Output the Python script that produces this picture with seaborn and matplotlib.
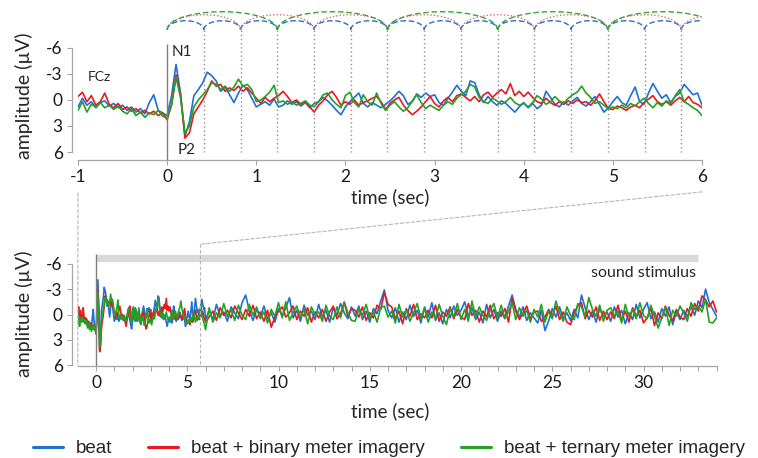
import numpy as np
import pandas as pd
import matplotlib.pyplot as plt
from matplotlib.patches import ConnectionPatch
import seaborn as sns

# sampling grid (s): zoomed window -1..6 s, then the rest of the trial
t_zoom = np.round(np.arange(-1, 6.001, 0.05), 2)
t_rest = np.round(np.arange(6.2, 34.001, 0.2), 1)

# FCz amplitude (uV), -1..6 s
beat_zoom = [0.8, -0.2, 0.6, 0.2, 0.9, 0.3, 0.1, 0.7, 0.4, 0.9, 0.6, 1.2, 0.8, 1.4, 1.0, 1.6, 0.3, -0.6, 1.2, 1.5,
             1.8, -0.5, -4.1, -0.8, 4.2, 2.5, -0.5, -1.2, -2.0, -3.2, -2.8, -2.2, -1.0, -1.5, -0.6, 0.3, -0.8, -1.7, -1.2, -0.2,
             0.8, 0.5, 0.2, 0.6, -0.1, 0.8, 0.6, 0.1, 0.5, 0.2, 0.7, 0.3, 0.9, 0.4, 0.2, -0.3, 0.1, 0.6, 1.2, 1.7,
             0.8, 0.2, -0.3, -0.8, 0.4, 0.8, 0.3, 0.6, 0.9, 0.5, 0.1, -0.4, -1.0, -0.5, 0.5, 0.2, -0.7, -0.3, -0.8, -0.4,
             -0.6, 0.3, 0.6, -0.2, -0.9, -1.7, -1.0, -0.5, -2.2, -2.0, -0.6, 0.3, -0.4, 0.2, 0.6, 0.1, 0.4, 0.9, 1.4, 0.8,
             0.3, 0.9, 0.4, 1.0, 0.6, -1.0, -0.3, 0.5, 0.8, 0.2, 0.6, 0.1, -0.3, 0.4, 0.7, 0.2, -0.4, 0.5, 1.4, 0.9,
             0.2, -0.4, 0.3, 0.6, -0.5, -1.5, 0.2, 0.5, -0.8, -1.9, -1.0, -0.2, -0.6, 0.3, -0.4, -0.8, -1.8, -1.2, -0.6, -0.8,
             0.6]
binary_zoom = [-0.4, -0.9, 0.2, -0.5, 0.6, 0.2, -0.8, 0.5, 0.9, 0.4, 1.1, 0.8, 1.3, 1.0, 1.5, 1.2, 1.6, 1.3, 1.8, 1.5,
               2.3, 0.5, -2.9, -0.6, 4.4, 3.8, 1.6, 0.8, 0.0, -1.0, -2.2, -1.6, -1.8, -1.0, -1.4, -1.1, -1.6, -1.0, -1.4, -0.8,
               -0.2, 0.4, -0.3, 0.2, -0.2, -0.5, -1.0, -0.4, 0.3, 0.0, 0.5, 0.2, 0.8, 1.4, 0.6, 0.1, -0.6, -1.0, -0.3, 0.6,
               0.2, 0.5, 0.0, 0.6, 0.3, 0.1, -0.2, -0.4, 0.2, 1.1, 0.4, 0.0, -0.3, 0.6, 1.2, 1.7, 1.3, 0.8, 0.2, -0.4,
               0.4, 0.8, 0.1, -0.3, 0.2, -0.5, -0.7, -0.3, 0.1, -0.4, 0.2, -0.6, -0.9, -0.3, -0.8, -1.2, -0.7, -1.9, -0.5, -1.0,
               -0.4, -0.9, -0.3, 0.2, 0.4, -0.2, 0.3, 0.6, 0.2, 0.5, 0.1, 0.4, 0.0, 0.3, 0.2, 0.6, 0.1, -0.7, 0.2, 1.0,
               1.1, 0.7, 0.9, 1.2, 0.8, 0.6, 0.9, 0.3, -0.1, -0.5, 0.2, 0.5, 0.2, 0.6, 0.1, -0.3, 0.2, -0.4, 0.3, 0.5,
               0.9]
ternary_zoom = [1.2, 0.2, 1.4, 0.5, 0.8, 0.3, 0.9, 0.6, 1.1, 0.7, 1.3, 1.6, 1.0, 1.8, 1.4, 2.0, 1.5, 1.7, 1.2, 1.9,
                2.0, 0.6, -2.6, -0.3, 3.8, 3.0, 0.8, 0.0, -0.6, -1.2, -2.0, -1.8, -1.2, -1.6, -1.0, -1.5, -2.4, -1.6, -1.8, -1.2,
                0.2, 0.0, -0.4, -0.9, -1.7, 0.3, 0.1, 0.5, 0.2, 0.6, 0.4, 0.1, 0.6, 0.8, 0.2, -0.6, -0.8, 0.0, 0.5, 0.9,
                -0.5, -0.9, 0.3, 0.8, -0.6, 0.2, 0.6, -0.8, 0.4, 1.2, 0.6, 0.2, 0.8, 1.3, 0.9, 0.1, -0.6, 0.3, 1.0, 0.6,
                0.9, 1.2, 0.6, 0.2, 0.5, -0.2, -0.6, -1.0, -1.8, -1.5, -0.3, 0.2, 0.4, -0.2, 0.1, 0.5, 0.2, -0.3, 0.3, 0.6,
                0.4, 0.8, 0.3, -0.5, -0.1, 0.5, 0.2, -0.4, 0.1, 0.4, -0.2, -0.6, -0.9, -1.6, -0.8, -0.3, 0.4, 0.2, 0.6, 1.0,
                0.8, 1.0, 0.6, 0.9, 0.4, 0.7, 0.2, -0.2, 0.4, 0.9, 0.3, 0.7, 0.1, 0.4, -0.5, -1.2, 0.2, 0.5, 0.9, 1.2,
                1.8]

# FCz amplitude (uV), 6.2..34 s
beat_rest = [-0.5, 0.6, -1.2, 0.2, -0.3, 0.8, -0.9, -0.2, 0.5, -1.4,
             -2.3, -0.4, 0.7, -0.6, 0.3, -1.0, 0.5, -0.2, 0.9, -0.7,
             0.2, -0.8, -2.0, 0.4, -0.5, 0.8, -1.1, 0.1, -0.4, 0.6,
             -1.2, 0.3, -0.5, 0.9, -0.8, 0.1, -1.3, -0.2, 0.5, -0.9,
             0.2, -1.0, 0.6, -0.4, 0.9, -0.7, -0.1, -1.6, -2.9, -0.5,
             0.4, -0.8, 0.9, -0.3, 0.6, -1.1, 0.2, -0.5, 1.0, -0.9,
             0.3, -1.4, 0.7, -0.2, 1.1, -0.6, 0.4, -1.0, 0.1, -0.5,
             -1.5, 0.2, -0.8, 0.6, -0.3, 1.0, -1.2, 0.4, -0.6, 0.8,
             -0.4, 0.5, -1.0, -2.3, -0.6, 0.3, -0.9, 0.7, -0.2, 0.4,
             1.0, -0.5, 1.9, 0.8, -0.7, 0.3, -0.9, 0.5, -0.2, 0.7,
             -0.6, 0.4, -2.3, -0.8, 0.6, -0.4, 0.9, -0.7, 0.2, -0.3,
             0.8, -0.9, 0.3, -0.5, 1.1, -0.2, 0.6, -1.2, 0.4, -0.6,
             -1.4, 0.5, -0.3, 0.9, -0.7, 0.2, -0.9, 1.2, -0.4, 0.6,
             -0.5, 0.3, -1.0, 0.1, -1.6, -0.8, -3.0, -1.4, -0.6, 0.2]
binary_rest = [0.3, -0.4, 0.7, -0.8, 0.1, -0.5, 0.4, -1.0, -0.2, 0.6,
               -0.6, 0.2, -1.1, 0.5, -0.3, 0.8, -0.5, 1.5, 0.3, -0.4,
               -0.9, 0.3, -0.2, -1.0, 0.6, -0.4, 0.2, -0.8, 0.9, -0.3,
               0.4, -0.6, 0.8, -0.3, -1.0, 0.5, -0.1, -1.4, 0.2, -0.7,
               -0.5, 0.3, -0.9, 0.7, -0.2, 0.4, -1.1, -0.6, -2.6, -1.2,
               -0.9, 0.5, -0.4, 1.1, -0.7, 0.2, -1.2, 0.6, -0.1, 0.4,
               -0.5, 0.4, -1.1, 0.8, -0.3, 0.2, -0.9, 0.5, -0.6, 0.3,
               0.6, -1.3, 0.1, -0.5, 0.9, -0.4, 0.3, -1.1, 0.5, -0.2,
               0.2, -0.7, 0.9, -1.9, -0.4, 0.6, -0.2, -1.0, 0.5, -0.3,
               -0.4, 0.8, 0.3, -0.6, 0.2, -1.0, 0.6, -0.3, 0.9, 1.2,
               -0.2, -1.0, -1.4, 0.5, -0.5, 0.3, -0.9, 0.7, -0.4, 0.6,
               -0.3, 0.5, -1.1, 0.7, -0.4, 0.9, -0.8, 0.2, -0.5, 1.0,
               0.4, -0.8, 1.3, -0.2, 0.5, -1.0, 0.1, 0.7, -0.6, 0.3,
               0.6, -0.7, 0.2, -1.3, -0.4, -2.2, -1.7, -0.9, -1.6, -0.3]
ternary_rest = [-0.8, 0.9, -0.2, 0.4, -1.3, 0.2, -0.6, 0.7, -1.1, 0.1,
                0.6, -1.2, 0.1, -0.9, 0.5, -0.3, 1.0, -0.6, 0.2, -1.4,
                0.4, -1.5, 0.7, -0.2, -1.0, 0.3, -0.6, 1.1, -0.9, 0.0,
                -0.3, 0.8, -1.1, 0.2, 0.6, -0.9, 0.4, -1.5, -0.2, 0.7,
                0.8, -0.6, 0.1, -1.2, 0.5, -0.3, 0.9, -0.8, -1.0, 0.3,
                -0.4, 1.0, -1.2, 0.3, -0.6, 0.8, -0.2, -1.3, 0.5, -0.7,
                0.9, -0.3, 0.5, -1.2, 0.2, 1.2, -0.7, 0.3, -1.3, 0.6,
                -0.6, 0.8, -1.6, 0.3, -0.9, 0.1, 0.7, -0.5, -1.3, 0.4,
                -1.1, 0.4, -0.3, -1.4, 0.6, -0.8, 0.2, -0.5, 0.9, -0.6,
                0.3, -1.2, 0.9, -0.4, 0.5, -1.6, -0.2, 0.8, -0.9, 0.1,
                0.6, -1.3, -0.9, 0.3, -2.0, -0.6, 0.2, -1.1, 0.8, -0.5,
                -0.8, 0.2, -0.4, 1.0, -1.2, 0.3, -0.6, 0.5, -1.4, 0.1,
                0.5, -1.1, 0.2, 1.6, 0.4, -0.9, 1.3, -0.5, 0.2, -1.0,
                -0.2, 0.8, -1.4, -0.6, -1.0, -0.3, -1.8, 0.9, 1.0, 0.4]

conditions = ["beat", "beat + binary meter imagery", "beat + ternary meter imagery"]
colors = ["#1f6fd4", "#e8191e", "#25a025"]
beat_period = 0.412   # s
n_beats = 14
stim_end = 33         # s

sns.set_theme(style="ticks")
plt.rcParams["font.family"] = ["Lato", "DejaVu Sans"]
plt.rcParams["axes.unicode_minus"] = False
palette = dict(zip(conditions, colors))


def long_df(t, series):
    return pd.concat([pd.DataFrame({"time": t, "amp": s, "cond": c})
                      for c, s in zip(conditions, series)], ignore_index=True)


zoom_df = long_df(t_zoom, [beat_zoom, binary_zoom, ternary_zoom])
full_df = long_df(np.concatenate([t_zoom, t_rest]),
                  [beat_zoom + beat_rest, binary_zoom + binary_rest, ternary_zoom + ternary_rest])


def style(ax, xmax):
    for s in ["top", "right"]:
        ax.spines[s].set_visible(False)
    ax.spines["left"].set_position(("outward", 4.3))
    ax.spines["left"].set_bounds(-6, 6)
    ax.spines["bottom"].set_bounds(-1, xmax)
    for s in ["left", "bottom"]:
        ax.spines[s].set_color("#a6a6a6")
        ax.spines[s].set_linewidth(0.9)
    ax.set_yticks([-6, -3, 0, 3, 6])
    ax.tick_params(which="both", colors="#a6a6a6", labelcolor="#1a1a1a",
                   labelsize=12.5, length=3.6, width=0.8, pad=3)
    ax.set_ylabel("amplitude (µV)", fontsize=14)
    ax.set_xlabel("time (sec)", fontsize=13.5)


fig = plt.figure(figsize=(7.58, 4.58), dpi=100)
ax1 = fig.add_axes([0.1029, 0.6507, 0.8232, 0.3275])
ax2 = fig.add_axes([0.1026, 0.2015, 0.8427, 0.2526])

# top: zoomed 7 s
sns.lineplot(data=zoom_df, x="time", y="amp", hue="cond", palette=palette,
             estimator=None, sort=False, lw=1.2, legend=False, ax=ax1)
ax1.set_xlim(-1, 6)
ax1.set_ylim(6.92, -10.38)
style(ax1, 6)
ax1.set_xticks(range(-1, 7))
ax1.yaxis.set_label_coords(-0.072, 0.43)
ax1.xaxis.set_label_coords(0.5, -0.19)

beats = np.arange(n_beats + 1) * beat_period
ax1.vlines(0, -6.46, 6.92, color="#7f7f7f", lw=1)
ax1.vlines(beats[1:], -8.1, 6, color="#8c8c8c", lw=1, linestyles=(0, (1, 2)))

# meter arcs: beat, binary, ternary grouping
arc_specs = [(1, "#2f6cc8", (0, (4, 2)), 1.04),
             (2, "#e06a6a", (0, (1, 1.5)), 1.73),
             (3, "#36a636", (0, (4, 2)), 2.08)]
for span, col, ls, h in arc_specs:
    half = span * beat_period / 2
    for start in beats[::span]:
        tt = np.linspace(start, start + 2 * half, 80)
        yy = -8.1 - h * np.sqrt(np.clip(1 - ((tt - start - half) / half) ** 2, 0, None))
        ax1.plot(tt, yy, color=col, lw=1, ls=ls)

ax1.text(-0.89, -2.65, "FCz", fontsize=10, va="center", ha="left")
ax1.text(0.045, -5.5, "N1", fontsize=11, va="center", ha="left")
ax1.text(0.12, 5.8, "P2", fontsize=11, va="center", ha="left")

# bottom: whole trial
sns.lineplot(data=full_df, x="time", y="amp", hue="cond", palette=palette,
             estimator=None, sort=False, lw=1.2, legend=False, ax=ax2)
ax2.set_xlim(-1, 34)
ax2.set_ylim(6.05, -7.62)
style(ax2, 34)
ax2.set_xticks(range(0, 31, 5))
ax2.set_xticks(range(0, 35), minor=True)
ax2.yaxis.set_label_coords(-0.070, 0.447)
ax2.xaxis.set_label_coords(0.489, -0.32)

ax2.hlines(-6.67, 0, stim_end, color="#d9d9d9", lw=5.2)
ax2.vlines(0, -7.1, 6.05, color="#7f7f7f", lw=1)
ax2.text(stim_end - 0.15, -4.9, "sound stimulus", fontsize=11.5, ha="right", va="center")

# zoom guides between panels
guide = dict(color="#b5b5b5", lw=0.8, ls=(0, (3, 2)))
fig.add_artist(ConnectionPatch((-1, 10.7), (-1, 6.05), ax1.transData, ax2.transData, **guide))
fig.add_artist(ConnectionPatch((6, 10.6), (5.7, -8.3), ax1.transData, ax2.transData, **guide))
ax2.plot([5.7, 5.7], [-8.3, 6.05], clip_on=False, **guide)

handles = [plt.Line2D([], [], color=c, lw=2.2) for c in colors]
fig.legend(handles, conditions, loc="center", bbox_to_anchor=(0.513, 0.02), ncol=3,
           frameon=False, prop={"family": "Liberation Sans", "size": 13.5},
           handlelength=1.6, handletextpad=0.7, columnspacing=1.9)

fig.savefig("out.png", dpi=100)
